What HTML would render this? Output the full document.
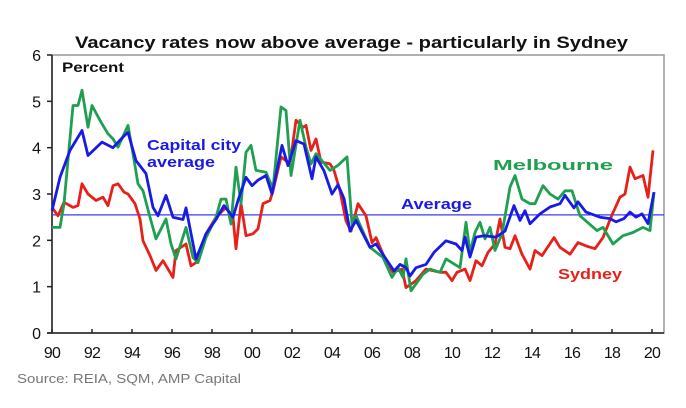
<!DOCTYPE html>
<html><head><meta charset="utf-8"><style>
body{margin:0;background:#fff;width:686px;height:403px;overflow:hidden;font-family:"Liberation Sans",sans-serif}
</style></head><body>
<svg width="686" height="403" font-family="Liberation Sans, sans-serif">
<text x="75" y="48" textLength="553" lengthAdjust="spacingAndGlyphs" font-size="16.5" font-weight="bold" fill="#111">Vacancy rates now above average - particularly in Sydney</text>
<rect x="52" y="55" width="612" height="278" fill="none" stroke="#999" stroke-width="1.5"/>
<g id="axes"></g>
<g id="series"></g>
<text x="62" y="72" textLength="62" lengthAdjust="spacingAndGlyphs" font-size="14" font-weight="bold" fill="#111">Percent</text>
<text x="147" y="150" textLength="94" lengthAdjust="spacingAndGlyphs" font-size="15" font-weight="bold" fill="#1a1ae6">Capital city</text>
<text x="147" y="167" textLength="68" lengthAdjust="spacingAndGlyphs" font-size="15" font-weight="bold" fill="#1a1ae6">average</text>
<text x="493" y="170" textLength="120" lengthAdjust="spacingAndGlyphs" font-size="15" font-weight="bold" fill="#1fa050">Melbourne</text>
<text x="401" y="209" textLength="71" lengthAdjust="spacingAndGlyphs" font-size="15" font-weight="bold" fill="#1a1ae6">Average</text>
<text x="558" y="279" textLength="64" lengthAdjust="spacingAndGlyphs" font-size="15" font-weight="bold" fill="#e8201a">Sydney</text>
<text x="17" y="383" textLength="224" lengthAdjust="spacingAndGlyphs" font-size="13" fill="#777">Source: REIA, SQM, AMP Capital</text>
</svg>
<script>
const yTicks=[0,1,2,3,4,5,6];
const xTickYears=[1990,1992,1994,1996,1998,2000,2002,2004,2006,2008,2010,2012,2014,2016,2018,2020];
const xTickLabels=["90","92","94","96","98","00","02","04","06","08","10","12","14","16","18","20"];
const averageValue=2.55;
const capYears=[1990,1990.4,1990.9,1991.5,1991.8,1992.5,1993.05,1993.55,1993.8,1994.2,1994.7,1995.05,1995.3,1995.7,1996.05,1996.55,1996.7,1997.2,1997.7,1998.2,1998.6,1999.05,1999.3,1999.7,2000,2000.3,2000.7,2001,2001.5,2001.8,2002.2,2002.6,2003,2003.2,2003.6,2004,2004.3,2004.6,2004.9,2005.2,2005.9,2006.2,2007.1,2007.4,2007.7,2007.9,2008.2,2008.7,2009.1,2009.7,2010.2,2010.5,2010.65,2010.9,2011.2,2011.6,2012.2,2012.65,2013.1,2013.4,2013.65,2013.9,2014.4,2014.9,2015.4,2015.65,2016.1,2016.3,2016.7,2017.4,2017.9,2018.2,2018.6,2018.9,2019.2,2019.5,2019.8,2020.1];
const capValues=[2.64,3.36,3.94,4.37,3.83,4.12,4.0,4.23,4.33,3.72,3.44,2.71,2.53,2.97,2.5,2.45,2.7,1.6,2.14,2.45,2.75,2.5,2.86,3.36,3.18,3.3,3.4,3.0,4.05,3.61,4.15,4.08,3.33,3.8,3.5,3.0,3.2,2.9,2.2,2.43,1.85,1.92,1.34,1.48,1.41,1.23,1.41,1.48,1.74,1.99,1.92,1.78,2.07,1.64,2.07,2.1,2.07,2.2,2.75,2.43,2.64,2.36,2.57,2.72,2.79,2.97,2.7,2.83,2.61,2.5,2.47,2.4,2.47,2.61,2.5,2.57,2.36,3.04];
const melYears=[1990,1990.4,1990.6,1991.05,1991.3,1991.5,1991.8,1992,1992.45,1992.8,1993.05,1993.3,1993.8,1994.05,1994.3,1994.55,1994.9,1995.2,1995.7,1995.95,1996.2,1996.7,1997.05,1997.3,1997.7,1998.2,1998.45,1998.7,1998.95,1999.2,1999.45,1999.7,1999.95,2000.2,2000.7,2001.05,2001.45,2001.7,2001.95,2002.4,2002.7,2002.95,2003.2,2003.55,2003.9,2004.3,2004.75,2005.0,2005.2,2005.9,2006.55,2007.0,2007.3,2007.55,2007.7,2007.95,2008.55,2008.9,2009.4,2009.7,2010.4,2010.7,2010.9,2011.15,2011.4,2011.65,2011.9,2012.15,2012.5,2012.9,2013.15,2013.5,2013.9,2014.15,2014.55,2014.9,2015.3,2015.65,2016.0,2016.4,2017.25,2017.55,2018.05,2018.55,2019.05,2019.55,2019.9,2020.1];
const melValues=[2.28,2.28,2.79,4.91,4.91,5.24,4.44,4.91,4.55,4.3,4.19,4.01,4.48,3.87,3.22,3.07,2.5,2.03,2.46,1.92,1.6,2.28,1.63,1.52,2.06,2.5,2.89,2.89,2.35,3.58,2.79,3.9,4.05,3.51,3.47,3.11,4.88,4.8,3.4,4.59,4.01,3.65,3.87,3.69,3.51,3.62,3.8,2.35,2.53,1.85,1.63,1.2,1.41,1.2,1.6,0.91,1.27,1.38,1.31,1.6,1.41,2.39,1.74,2.17,2.39,2.03,2.28,1.78,2.14,3.15,3.4,2.89,2.79,2.79,3.18,3.0,2.89,3.07,3.07,2.53,2.21,2.28,1.92,2.1,2.17,2.28,2.21,3.04];
const sydYears=[1990,1990.3,1990.6,1991.05,1991.3,1991.5,1991.8,1992.2,1992.55,1992.8,1993.05,1993.3,1993.6,1993.8,1994.15,1994.4,1994.55,1994.9,1995.2,1995.55,1996.05,1996.2,1996.7,1996.95,1997.2,1997.7,1998.2,1998.7,1999.05,1999.2,1999.45,1999.7,2000.05,2000.3,2000.55,2000.9,2001.05,2001.45,2001.9,2002.2,2002.55,2002.7,2002.95,2003.2,2003.45,2003.9,2004.1,2004.4,2004.7,2004.95,2005.3,2005.7,2006.0,2006.2,2006.55,2007.05,2007.5,2007.7,2008.2,2008.7,2009.4,2009.7,2010.0,2010.25,2010.65,2010.9,2011.2,2011.5,2011.8,2012.15,2012.4,2012.65,2012.9,2013.15,2013.5,2013.9,2014.15,2014.5,2015.1,2015.4,2015.9,2016.3,2016.7,2017.15,2017.55,2017.95,2018.4,2018.65,2018.9,2019.15,2019.55,2019.8,2020.05];
const sydValues=[2.71,2.53,2.82,2.71,2.75,3.22,3.0,2.86,2.93,2.75,3.18,3.22,3.04,3.0,2.79,2.46,1.99,1.67,1.35,1.56,1.2,1.78,1.92,1.45,1.52,2.14,2.5,2.71,2.5,1.82,2.79,2.1,2.14,2.25,2.79,2.86,3.07,3.8,3.65,4.59,4.44,4.48,3.94,4.19,3.69,3.65,3.51,3.07,2.42,2.2,2.79,2.53,1.95,2.06,1.7,1.31,1.38,0.98,1.13,1.38,1.31,1.31,1.13,1.31,1.38,1.13,1.56,1.45,1.74,1.92,2.46,1.85,1.82,2.1,1.7,1.38,1.78,1.67,2.06,1.85,1.7,1.95,1.88,1.82,2.06,2.5,2.93,3.0,3.58,3.33,3.4,2.93,3.94];

const NS='http://www.w3.org/2000/svg';
const X0=52,X1=652,Y0=333,Y6=55;
function xs(yr){return X0+(yr-1990)*(X1-X0)/30;}
function ys(v){return Y0-v*(Y0-Y6)/6;}
const axes=document.getElementById('axes');
const series=document.getElementById('series');
function mk(tag,attrs,parent){const e=document.createElementNS(NS,tag);for(const k in attrs)e.setAttribute(k,attrs[k]);parent.appendChild(e);return e;}
yTicks.forEach(t=>{
  const tk=mk('line',{x1:47,x2:52,y1:ys(t),y2:ys(t),stroke:'#222','stroke-width':1.5},axes);
  
  
  const lb=mk('text',{x:41,y:ys(t)+6,'text-anchor':'end','font-size':16,fill:'#111'},axes);
  lb.textContent=String(t);
  
  
});
xTickYears.forEach((yr,i)=>{
  const tk=mk('line',{x1:xs(yr),x2:xs(yr),y1:Y0,y2:Y0-4,stroke:'#222','stroke-width':1.5},axes);
  
  
  const lb=mk('text',{x:xs(yr),y:358,'text-anchor':'middle','font-size':16,fill:'#111','letter-spacing':'-0.8'},axes);
  lb.textContent=xTickLabels[i];
  
  
});
const yax=mk('line',{x1:X0,x2:X0,y1:Y6,y2:Y0,stroke:'#222','stroke-width':1.5},axes);


const xax=mk('line',{x1:X0-5,x2:664,y1:Y0,y2:Y0,stroke:'#222','stroke-width':1.5},axes);


const avg=mk('line',{x1:X0,x2:664,y1:ys(averageValue),y2:ys(averageValue),stroke:'#3a3af0','stroke-width':1.2},series);


function line(years,vals,color){
  return mk('polyline',{points:years.map((y,i)=>xs(y).toFixed(1)+','+ys(vals[i]).toFixed(1)).join(' '),fill:'none',stroke:color,'stroke-width':2.8,'stroke-linejoin':'round'},series);
}
const sl=line(sydYears,sydValues,'#e8201a');


const ml=line(melYears,melValues,'#1fa050');


const cl=line(capYears,capValues,'#1a1ae6');


</script>
</body></html>
